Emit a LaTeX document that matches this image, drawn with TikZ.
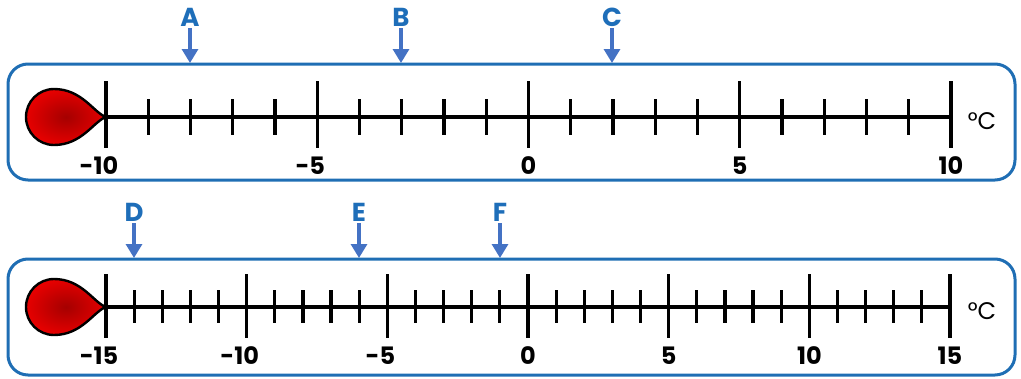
\documentclass[tikz,border=0pt]{standalone}
\usepackage{fontspec}
\setmainfont{Poppins}
\usetikzlibrary{arrows.meta}

\definecolor{boxblue}{RGB}{31,110,180}
\definecolor{arrowblue}{RGB}{68,114,196}
\definecolor{letterblue}{RGB}{30,110,185}
\definecolor{bulbdark}{RGB}{165,0,0}
\definecolor{bulbred}{RGB}{230,0,0}

\tikzset{
  frame/.style={draw=boxblue,line width=3pt,rounded corners=20pt},
  axis/.style={line width=3.2pt},
  minortick/.style={line width=3.2pt},
  majortick/.style={line width=3.2pt},
  bulb/.style={line width=2.4pt,shading=radial,inner color=bulbdark,outer color=bulbred},
  numlabel/.style={font=\fontsize{24}{28}\selectfont\bfseries,inner sep=0pt},
  unit/.style={font=\fontsize{24}{28}\selectfont,inner sep=0pt},
  letter/.style={font=\fontsize{26}{30}\selectfont\bfseries,text=letterblue,inner sep=1pt},
  pointer/.style={draw=arrowblue,line width=3.2pt,-{Triangle[width=16pt,length=14pt]},shorten <=1pt}
}

\begin{document}
\begin{tikzpicture}[x=1pt,y=-1pt]
\useasboundingbox (0,0) rectangle (1021,378);

% top thermometer, -10 .. 10
\draw[frame] (8,64) rectangle (1015,180);
\draw[axis] (106,117) -- (951,117);
\foreach \i in {0,...,20} {
  \pgfmathsetmacro{\xx}{106+\i*42.25}
  \draw[minortick] (\xx,99) -- (\xx,135);
}
\foreach \v [count=\k from 0] in {{\llap{-}10},{\llap{-}5},0,5,10} {
  \pgfmathsetmacro{\xx}{106+\k*211.25}
  \draw[majortick] (\xx,81) -- (\xx,148);
  \node[numlabel] (ta\k) at (\xx,166) {\v};
}
\shadedraw[bulb] (106,117) .. controls (94,113) and (82,89) .. (54,89)
  arc[start angle=-90,end angle=-270,radius=28]
  .. controls (82,145) and (94,121) .. (106,117);
\node[unit] (tu) at (982,121) {°C};

\node[letter] (A) at (190,17) {A};
\node[letter] (B) at (401,17) {B};
\node[letter] (C) at (612,17) {C};
\coordinate (Atip) at (190,63);
\coordinate (Btip) at (401,63);
\coordinate (Ctip) at (612,63);
\draw[pointer] (A) -- (Atip);
\draw[pointer] (B) -- (Btip);
\draw[pointer] (C) -- (Ctip);

% bottom thermometer, -15 .. 15
\draw[frame] (8,259) rectangle (1015,375);
\draw[axis] (106,307) -- (950,307);
\foreach \i in {0,...,30} {
  \pgfmathsetmacro{\xx}{106+\i*28.133}
  \draw[minortick] (\xx,290) -- (\xx,323);
}
\foreach \v [count=\k from 0] in {{\llap{-}15},{\llap{-}10},{\llap{-}5},0,5,10,15} {
  \pgfmathsetmacro{\xx}{106+\k*140.667}
  \draw[majortick] (\xx,274) -- (\xx,338);
  \node[numlabel] (ba\k) at (\xx,356) {\v};
}
\shadedraw[bulb] (106,307) .. controls (94,303) and (82,279) .. (54,279)
  arc[start angle=-90,end angle=-270,radius=28]
  .. controls (82,335) and (94,311) .. (106,307);
\node[unit] (bu) at (982,311) {°C};

\node[letter] (D) at (134,212) {D};
\node[letter] (E) at (359,212) {E};
\node[letter] (F) at (500,212) {F};
\coordinate (Dtip) at (134,258);
\coordinate (Etip) at (359,258);
\coordinate (Ftip) at (500,258);
\draw[pointer] (D) -- (Dtip);
\draw[pointer] (E) -- (Etip);
\draw[pointer] (F) -- (Ftip);
\end{tikzpicture}
\end{document}
